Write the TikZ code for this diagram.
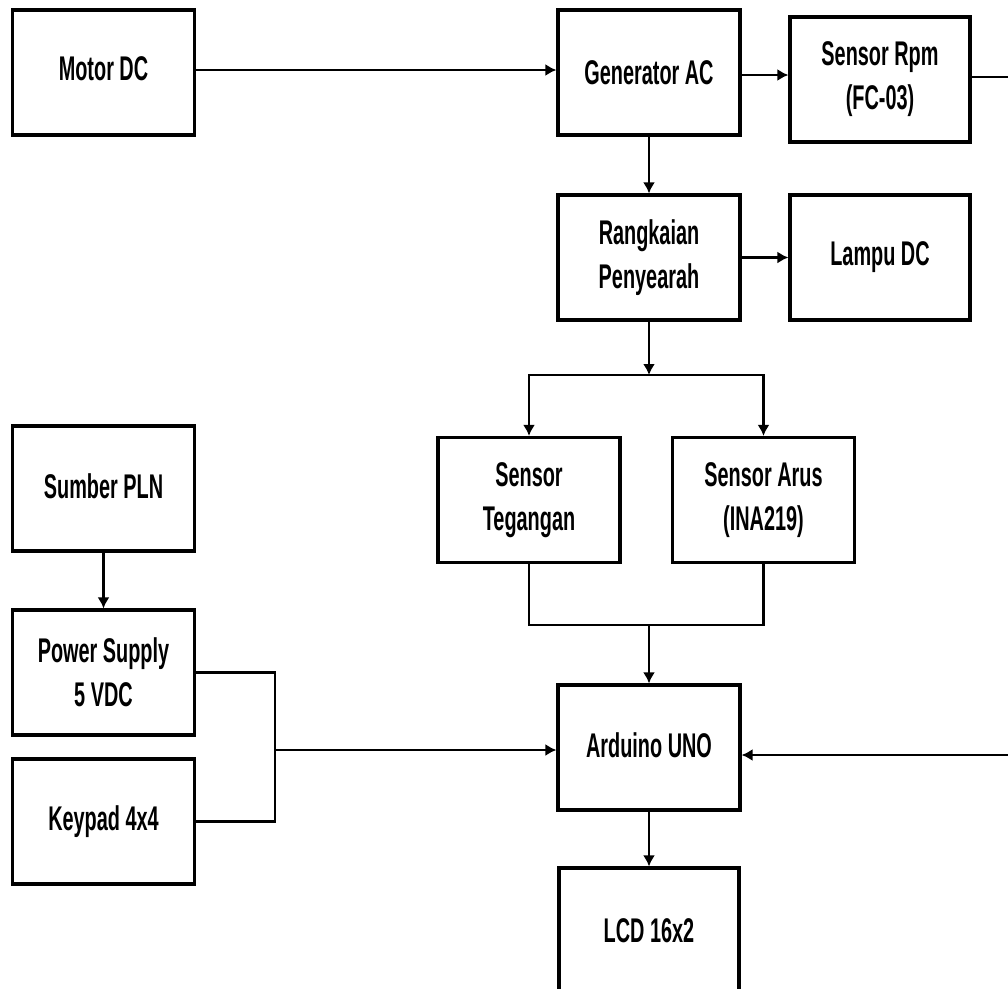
\documentclass[tikz,border=0pt]{standalone}
\usepackage{fontspec}
\setmainfont{Liberation Sans}[FakeStretch=0.58]
\usetikzlibrary{arrows.meta}

\begin{document}
\begin{tikzpicture}[x=0.02cm, y=-0.02cm,
  blok/.style={rectangle, draw, line width=1.8pt, minimum width=3.64cm, minimum height=2.5cm, align=center, font=\bfseries\fontsize{19.5}{25}\selectfont},
  arr/.style={-{Latex[length=2.2mm, width=2.4mm]}, line width=1.25pt},
  garis/.style={line width=1.25pt}]
\useasboundingbox (0,0) rectangle (1008,988);
% baris atas
\node[blok] (motor) at (103.5,72.5) {\raisebox{4pt}{Motor DC}};
\node[blok] (gen) at (649,72.5) {Generator AC};
\node[blok, minimum width=3.6cm] (rpm) at (880,79.5) {Sensor Rpm\\(FC-03)};
\node[blok] (rect) at (649,257.5) {Rangkaian\\Penyearah};
\node[blok, minimum width=3.6cm] (lampu) at (880,257.5) {\raisebox{3pt}{Lampu DC}};
% sensor
\node[blok] (teg) at (529,500) {Sensor\\Tegangan};
\node[blok] (arus) at (763.5,500) {Sensor Arus\\(INA219)};
\node[blok] (arduino) at (649,747.5) {\raisebox{3pt}{Arduino UNO}};
\node[blok, minimum width=3.6cm] (lcd) at (649,930.5) {LCD 16x2};
% sisi kiri
\node[blok] (pln) at (103.5,488.5) {\raisebox{3pt}{Sumber PLN}};
\node[blok] (psu) at (103.5,672.5) {Power Supply\\5 VDC};
\node[blok] (keypad) at (103.5,821.5) {Keypad 4x4};
\coordinate (split) at (649,375);
\coordinate (merge) at (649,625);
\coordinate (join) at (275,750);
\coordinate (rpmout) at (1010,77);
\coordinate (ardin) at (1010,755);

\draw[arr] (motor.east |- 0,70) -- (gen.west |- 0,70);
\draw[arr] (gen.east |- 0,75) -- (rpm.west |- 0,75);
\draw[garis] (rpm.east |- rpmout) -- (rpmout);
\draw[arr] (gen) -- (rect);
\draw[arr] (rect) -- (lampu);
\draw[arr] (rect) -- (split);
\draw[arr] (split) -| (teg.north);
\draw[arr] (split) -| (arus.north);
\draw[garis] (teg.south) |- (merge) -| (arus.south);
\draw[arr] (merge) -- (arduino);
\draw[arr] (arduino) -- (lcd);
\draw[arr] (ardin) -- (ardin -| arduino.east);
\draw[arr] (pln) -- (psu);
\draw[garis] (psu.east) -| (join) |- (keypad.east);
\draw[arr] (join) -- (join -| arduino.west);
\end{tikzpicture}
\end{document}
